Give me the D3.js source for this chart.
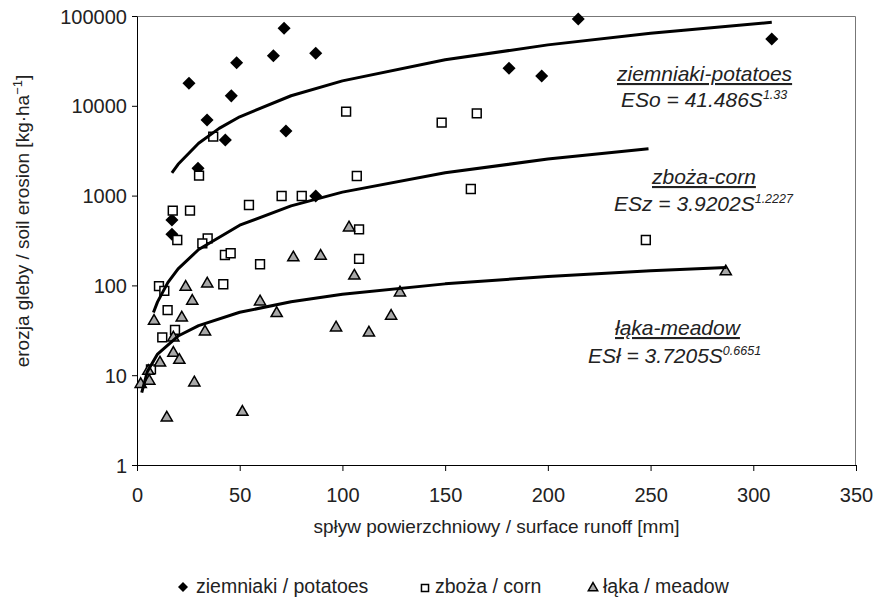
<!DOCTYPE html>
<html>
<head>
<meta charset="utf-8">
<script src="https://cdn.jsdelivr.net/npm/d3@7"></script>
<style>
  body { margin: 0; background: #fff; }
  svg { display: block; font-family: Arial, "Liberation Sans", sans-serif; }
</style>
</head>
<body>
<div id="chart"></div>
<script>
const potatoRunoff = [71.6, 25.3, 48.5, 66.4, 87.0, 45.9, 34.1, 72.5, 43.0, 29.7, 87.0, 17.0, 17.0, 214.8, 309.0, 181.1, 197.0];
const potatoErosion = [72900, 17800, 30200, 36100, 38400, 12900, 6950, 5240, 4160, 2010, 990, 535, 371, 92600, 55500, 26200, 21500];

const cornRunoff = [37.1, 30.2, 70.4, 80.2, 54.5, 17.4, 25.8, 19.6, 34.4, 31.8, 42.8, 45.6, 59.9, 42.0, 10.7, 13.3, 14.9, 18.5, 12.3, 101.8, 148.3, 165.4, 107.0, 162.5, 108.1, 108.1, 247.7, 6.8];
const cornErosion = [4530, 1667, 990, 990, 786, 679, 679, 320, 334, 294, 218, 228, 172, 103, 98, 87, 53, 32, 26.4, 8600, 6490, 8250, 1652, 1184, 421, 197, 320, 11.6];

const meadowRunoff = [76.1, 89.4, 34.2, 23.7, 26.9, 59.9, 68.0, 21.8, 8.3, 33.1, 17.7, 17.7, 20.6, 11.2, 5.5, 6.0, 1.8, 27.9, 14.5, 51.3, 103.2, 105.8, 128.0, 123.7, 96.9, 112.9, 286.6];
const meadowErosion = [209, 218, 107, 98.5, 68.8, 67.6, 50.2, 44.8, 41.2, 31.3, 26.8, 18.1, 15.1, 14.1, 11.4, 8.85, 8.13, 8.47, 3.45, 3.99, 451, 131, 85.1, 46.8, 34.7, 30.5, 146];

// Power trend lines.
const potatoTrendX = [17, 20, 30, 40, 50, 75, 100, 150, 200, 250, 309];
const potatoTrendY = [1796, 2230, 3825, 5605, 7540, 12940, 18960, 32500, 47700, 64100, 85000];
const cornTrendX = [8, 10, 15, 20, 30, 50, 75, 100, 150, 200, 249];
const cornTrendY = [50, 65.5, 107.5, 153, 251, 468, 769, 1093, 1795, 2552, 3334];
const meadowTrendX = [2.3, 5, 10, 20, 30, 50, 75, 100, 150, 200, 250, 287];
const meadowTrendY = [6.4, 10.9, 17.2, 27.3, 35.7, 50.2, 65.7, 79.6, 104, 126, 146, 158];

const xTicks = [0, 50, 100, 150, 200, 250, 300, 350];
const yTicks = [1, 10, 100, 1000, 10000, 100000];

const WIDTH = 876, HEIGHT = 598;
const MARGIN = { top: 16, right: 20, bottom: 133, left: 137 };
const INNER_W = WIDTH - MARGIN.left - MARGIN.right;
const INNER_H = HEIGHT - MARGIN.top - MARGIN.bottom;
const TEXT = "#222";

const svg = d3.select("#chart").append("svg")
    .attr("width", WIDTH)
    .attr("height", HEIGHT);

const g = svg.append("g")
    .attr("transform", `translate(${MARGIN.left},${MARGIN.top})`);

const x = d3.scaleLinear().domain([0, 350]).range([0, INNER_W]);
const y = d3.scaleLog().domain([1, 100000]).range([INNER_H, 0]);

// plot frame (top + right) in grey, axes in black
g.append("path")
    .attr("d", `M0,0.5H${INNER_W - 0.5}V${INNER_H}`)
    .attr("fill", "none")
    .attr("stroke", "#777")
    .attr("stroke-width", 1);

const xAxis = g.append("g")
    .attr("transform", `translate(0,${INNER_H})`)
    .call(d3.axisBottom(x).tickValues(xTicks).tickSize(6).tickSizeOuter(0).tickPadding(17));

const yAxis = g.append("g")
    .call(d3.axisLeft(y).tickValues(yTicks).tickFormat(d3.format("d")).tickSize(5).tickSizeOuter(0).tickPadding(5));

[xAxis, yAxis].forEach(a => {
    a.attr("font-family", null);
    a.selectAll("text").attr("font-size", 20).attr("fill", TEXT);
    a.selectAll("line, path").attr("stroke", "#000");
});
yAxis.selectAll("text").attr("dy", "0.35em");

// axis titles
g.append("text")
    .attr("x", INNER_W / 2)
    .attr("y", INNER_H + 68)
    .attr("text-anchor", "middle")
    .attr("font-size", 19)
    .attr("fill", TEXT)
    .text("spływ powierzchniowy / surface runoff [mm]");

const yTitle = svg.append("text")
    .attr("transform", "translate(29,221) rotate(-90)")
    .attr("text-anchor", "middle")
    .attr("font-size", 19)
    .attr("fill", TEXT);
yTitle.append("tspan").text("erozja gleby / soil erosion [kg·ha");
yTitle.append("tspan").attr("dy", -7).attr("font-size", 13).text("−1");
yTitle.append("tspan").attr("dy", 7).text("]");

// markers
const diamond = d3.symbol().type(d3.symbolSquare).size(85);
const square = d3.symbol().type(d3.symbolSquare).size(78);
const triangle = d3.symbol().type(d3.symbolTriangle).size(54);

const lineGen = d3.line()
    .x(d => x(d[0]))
    .y(d => y(d[1]));

const trends = [
    d3.zip(potatoTrendX, potatoTrendY),
    d3.zip(cornTrendX, cornTrendY),
    d3.zip(meadowTrendX, meadowTrendY)
];

g.selectAll("path.diamond")
    .data(d3.zip(potatoRunoff, potatoErosion))
    .join("path")
    .attr("class", "diamond")
    .attr("d", diamond)
    .attr("transform", d => `translate(${x(d[0])},${y(d[1])}) rotate(45)`)
    .attr("fill", "#000");

g.selectAll("path.square")
    .data(d3.zip(cornRunoff, cornErosion))
    .join("path")
    .attr("class", "square")
    .attr("d", square)
    .attr("transform", d => `translate(${x(d[0])},${y(d[1])})`)
    .attr("fill", "#fff")
    .attr("stroke", "#000")
    .attr("stroke-width", 1.5);

g.selectAll("path.triangle")
    .data(d3.zip(meadowRunoff, meadowErosion))
    .join("path")
    .attr("class", "triangle")
    .attr("d", triangle)
    .attr("transform", d => `translate(${x(d[0])},${y(d[1]) + 1})`)
    .attr("fill", "#a8a8a8")
    .attr("stroke", "#000")
    .attr("stroke-width", 1.5);

g.selectAll("path.trend")
    .data(trends)
    .join("path")
    .attr("class", "trend")
    .attr("d", lineGen)
    .attr("fill", "none")
    .attr("stroke", "#000")
    .attr("stroke-width", 3)
    .attr("stroke-linejoin", "round");

// equation labels
const labels = [
    { title: "ziemniaki-potatoes", tx: 617, ty: 81, eq: "ESo = 41.486S", sup: "1.33", ex: 621, ey: 107 },
    { title: "zboża-corn", tx: 652, ty: 184, eq: "ESz = 3.9202S", sup: "1.2227", ex: 614, ey: 211 },
    { title: "łąka-meadow", tx: 615, ty: 335, eq: "ESł = 3.7205S", sup: "0.6651", ex: 588, ey: 363 }
];

labels.forEach(l => {
    svg.append("text")
        .attr("x", l.tx)
        .attr("y", l.ty)
        .attr("font-size", 21)
        .attr("font-style", "italic")
        .attr("text-decoration", "underline")
        .attr("fill", TEXT)
        .text(l.title);

    const eq = svg.append("text")
        .attr("x", l.ex)
        .attr("y", l.ey)
        .attr("font-size", 21)
        .attr("font-style", "italic")
        .attr("fill", TEXT);
    eq.append("tspan").text(l.eq);
    eq.append("tspan").attr("dx", 0).attr("dy", -8).attr("font-size", 12.5).text(l.sup);
});

// legend
const legend = svg.append("g").attr("transform", "translate(0,587)");
const legendItems = [
    { label: "ziemniaki / potatoes", x: 183, sym: d3.symbol().type(d3.symbolSquare).size(50), rot: 45, fill: "#000", stroke: "none" },
    { label: "zboża / corn", x: 425, sym: d3.symbol().type(d3.symbolSquare).size(50), rot: 0, fill: "#fff", stroke: "#000" },
    { label: "łąka / meadow", x: 593, sym: d3.symbol().type(d3.symbolTriangle).size(38), rot: 0, fill: "#a8a8a8", stroke: "#000" }
];

legendItems.forEach(item => {
    legend.append("path")
        .attr("d", item.sym)
        .attr("transform", `translate(${item.x},${item.rot ? 0 : 1}) rotate(${item.rot})`)
        .attr("fill", item.fill)
        .attr("stroke", item.stroke)
        .attr("stroke-width", 1.5);
    legend.append("text")
        .attr("x", item.x + (item.rot ? 13 : 10))
        .attr("y", 6)
        .attr("font-size", 19.5)
        .attr("fill", TEXT)
        .text(item.label);
});
</script>
</body>
</html>
